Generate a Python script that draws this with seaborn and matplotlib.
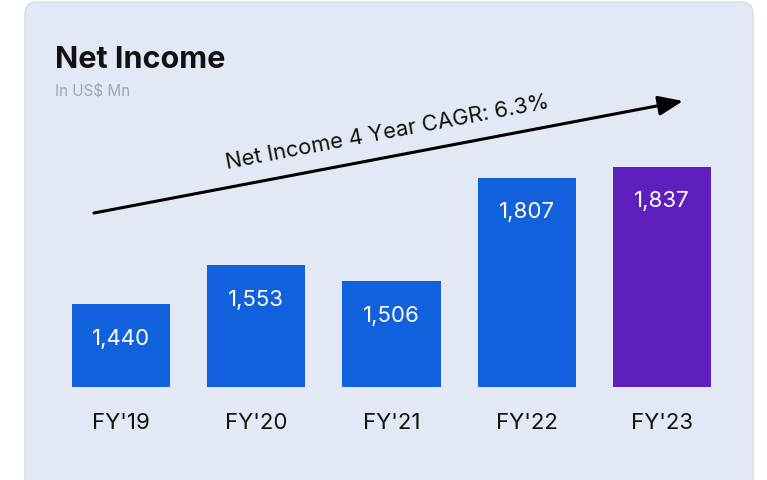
import matplotlib
matplotlib.use("Agg")
import matplotlib.pyplot as plt
from matplotlib.patches import FancyBboxPatch, FancyArrowPatch
import seaborn as sns

# data
years = ["FY'19", "FY'20", "FY'21", "FY'22", "FY'23"]
net_income = [1440, 1553, 1506, 1807, 1837]
bar_colors = ["#1160DC", "#1160DC", "#1160DC", "#1160DC", "#5E1FBE"]

sns.set_style("white")
plt.rcParams["font.family"] = ["Inter", "DejaVu Sans"]

fig = plt.figure(figsize=(7.67, 4.81), dpi=100)
fig.patch.set_facecolor("white")

# rounded card behind the chart
card = FancyBboxPatch((0.25, -0.2), 7.28, 4.98,
                      boxstyle="round,pad=0,rounding_size=0.12",
                      transform=fig.dpi_scale_trans,
                      facecolor="#E2E8F4", edgecolor="#D5DCEA", lw=1,
                      zorder=-5)
fig.patches.append(card)

ax = fig.add_axes([0.0696, 0.1933, 0.8816, 0.5023])
ax.set_facecolor("none")
sns.barplot(x=years, y=net_income, hue=years, palette=bar_colors,
            width=0.725, legend=False, ax=ax, saturation=1, linewidth=0)
ax.set_ylim(1200, 1900)
ax.set_xlim(-0.5, 4.5)
sns.despine(ax=ax, left=True, bottom=True)
ax.set_yticks([])
ax.tick_params(axis="x", length=0, pad=18, labelsize=16, labelcolor="#111111")
ax.set_xlabel("")
ax.set_ylabel("")

for i, v in enumerate(net_income):
    ax.annotate(f"{v:,}", (i, v), xytext=(0, -24), textcoords="offset points",
                ha="center", va="center", color="white", fontsize=16)

# titles
fig.text(0.0717, 0.8586, "Net Income", fontsize=22, fontweight="bold",
         color="#111111", va="baseline")
fig.text(0.0717, 0.8004, "In US$ Mn", fontsize=11, color="#A0A6B0",
         va="baseline")

# CAGR arrow
fig.patches.append(FancyArrowPatch(
    (94 / 767, 1 - 214 / 481), (683 / 767, 1 - 102 / 481),
    transform=fig.transFigure,
    arrowstyle="-|>,head_length=0.75,head_width=0.3",
    color="black", lw=2.2, mutation_scale=20, shrinkA=0, shrinkB=0))
fig.text(387 / 767, 1 - 133 / 481, "Net Income 4 Year CAGR: 6.3%",
         fontsize=15.8, rotation=10.7, rotation_mode="anchor",
         ha="center", va="center", color="#111111")

plt.savefig("out.png", dpi=100)
